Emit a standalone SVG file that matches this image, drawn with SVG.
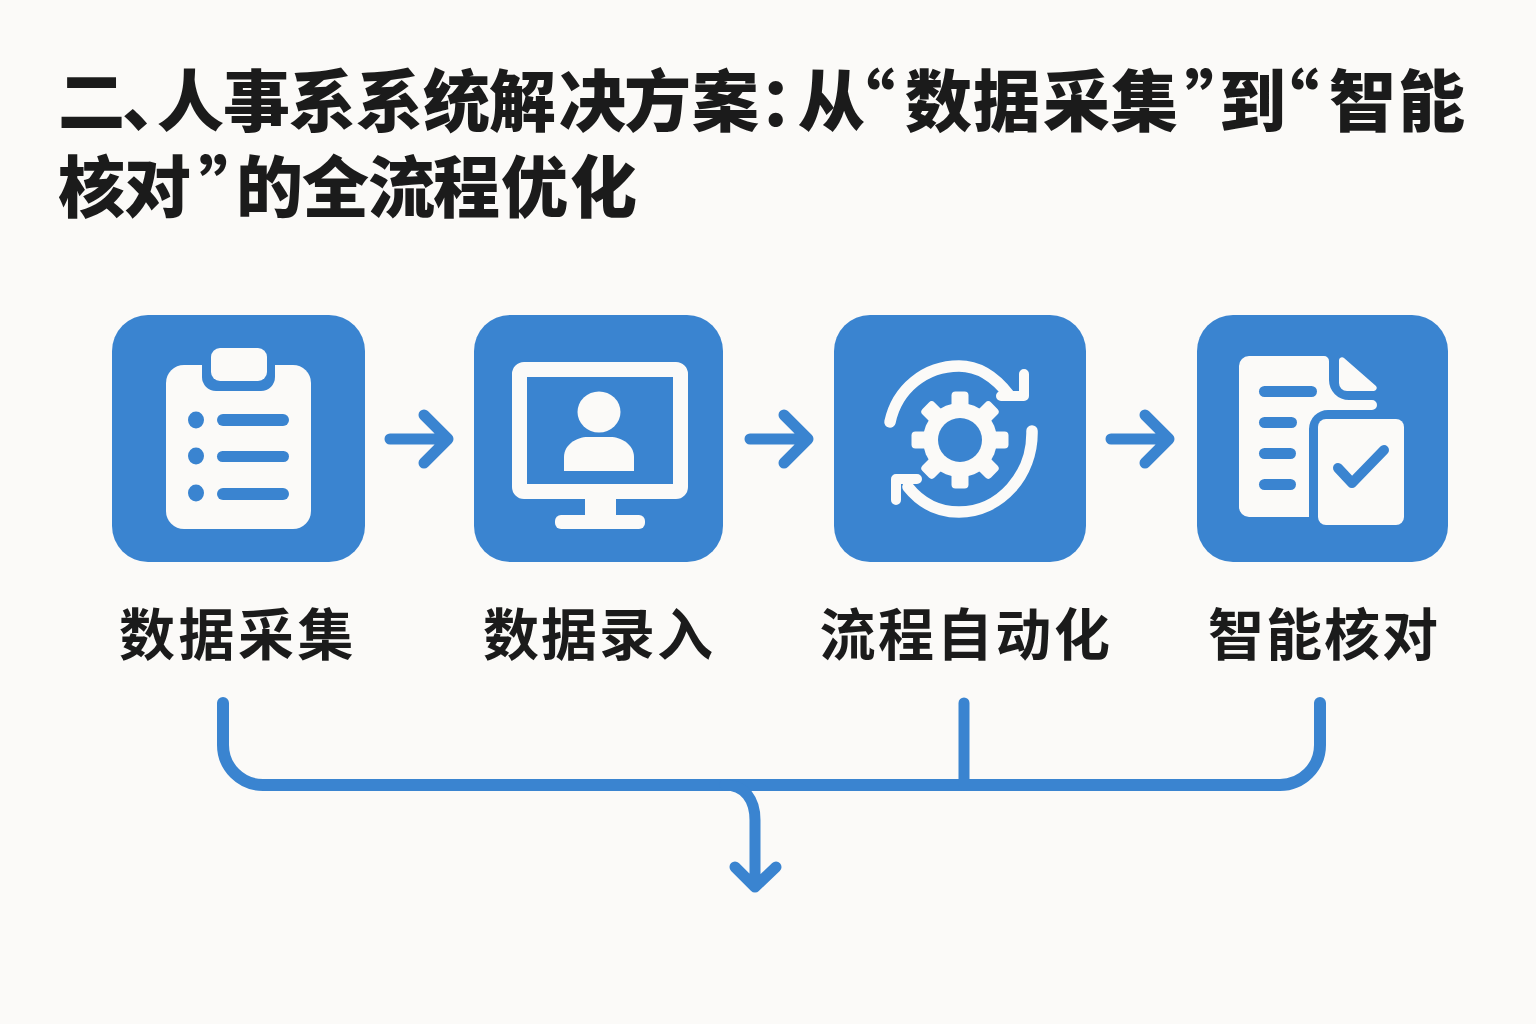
<svg xmlns="http://www.w3.org/2000/svg" width="1536" height="1024" viewBox="0 0 1536 1024">
<style>
.t{font-family:"Noto Sans CJK SC",sans-serif;font-weight:700;fill:#1b1b1b}
.h{font-size:67px;font-weight:900}
.l{font-size:56px;letter-spacing:2px;text-anchor:middle}
.b{fill:#3a84d0}
.w{fill:#fbfaf8}
.ws{fill:none;stroke:#fbfaf8;stroke-linecap:round;stroke-linejoin:round}
.c{fill:none;stroke:#3a84d0;stroke-width:11;stroke-linecap:round;stroke-linejoin:round}
</style>
<rect width="1536" height="1024" fill="#fbfaf8"/>
<g id="title">
<text class="t h" x="58 122 157 223 289 356 423 489 559 624 692 759 798 828 905 973 1043 1111 1185 1219 1252 1329 1398" y="126">二、人事系系统解决方案：从“数据采集”到“智能</text>
<text class="t h" x="58 124 199 236 302 368 433 501 570" y="212">核对”的全流程优化</text>
</g>
<g id="node1">
<rect class="b" x="112" y="315" width="253" height="247" rx="36"/>
<rect class="w" x="166" y="365" width="145" height="164" rx="18"/>
<path class="b" d="M202 362h73v15a14 14 0 0 1-14 14h-45a14 14 0 0 1-14-14z"/>
<rect class="w" x="211" y="348" width="56" height="33" rx="9"/>
<ellipse class="b" cx="196" cy="420" rx="8" ry="8.5"/><ellipse class="b" cx="196" cy="456" rx="8" ry="8.5"/><ellipse class="b" cx="196" cy="493" rx="8" ry="8.5"/>
<rect class="b" x="217" y="414" width="72" height="12" rx="6"/><rect class="b" x="217" y="451" width="72" height="11" rx="5.5"/><rect class="b" x="217" y="488" width="72" height="12" rx="6"/>
<text class="t l" x="238" y="655" style="letter-spacing:3.5px">数据采集</text>
</g>
<g id="node2">
<rect class="b" x="474" y="315" width="249" height="247" rx="36"/>
<path class="w" fill-rule="evenodd" d="M524 362h152a12 12 0 0 1 12 12v113a12 12 0 0 1-12 12h-152a12 12 0 0 1-12-12v-113a12 12 0 0 1 12-12zM527 377v107h146v-107z"/>
<rect class="w" x="585" y="498" width="31" height="20"/>
<rect class="w" x="555" y="515" width="90" height="14" rx="6"/>
<ellipse class="w" cx="599" cy="412" rx="21.5" ry="20.5"/>
<path class="w" d="M564 471v-14c0-12 12-20 24-20h22c12 0 24 8 24 20v14z"/>
<text class="t l" x="599" y="655">数据录入</text>
</g>
<g id="node3">
<rect class="b" x="834" y="315" width="252" height="247" rx="36"/>
<path class="ws" stroke-width="11.5" d="M890 422C897 389 925 366 959 366C980 366 996 378 1009 395"/>
<path class="ws" stroke-width="11.5" d="M1032 431C1033 475 1000 512 959 512C937 512 920 502 908 487"/>
<path class="ws" stroke-width="10" d="M1024 374V396H1001"/>
<path class="ws" stroke-width="10" d="M896 500V479H917"/>
<g class="w"><rect x="951.5" y="391.5" width="17" height="97" rx="4"/><rect x="951.5" y="391.5" width="17" height="97" rx="4" transform="rotate(45 960 440)"/><rect x="951.5" y="391.5" width="17" height="97" rx="4" transform="rotate(90 960 440)"/><rect x="951.5" y="391.5" width="17" height="97" rx="4" transform="rotate(135 960 440)"/></g>
<circle class="w" cx="960" cy="440" r="37"/>
<circle class="b" cx="960" cy="440" r="22"/>
<text class="t l" x="966" y="655" style="letter-spacing:2.6px">流程自动化</text>
</g>
<g id="node4">
<rect class="b" x="1197" y="315" width="251" height="247" rx="36"/>
<path class="w" d="M1249 356H1324a5 5 0 0 1 5 5V380a20 20 0 0 0 20 20H1372a5 5 0 0 1 0 10H1328a19 19 0 0 0-19 19V517H1249a10 10 0 0 1-10-10V366a10 10 0 0 1 10-10z"/>
<path class="w" d="M1339 360a3 3 0 0 1 5-2L1376 386a3 3 0 0 1-2 5H1347a8 8 0 0 1-8-8z"/>
<rect class="w" x="1318" y="419" width="86" height="106" rx="8"/>
<rect class="b" x="1259" y="386" width="58" height="11" rx="5.5"/><rect class="b" x="1259" y="417" width="38" height="11" rx="5.5"/><rect class="b" x="1259" y="448" width="37" height="11" rx="5.5"/><rect class="b" x="1259" y="479" width="37" height="11" rx="5.5"/>
<path fill="none" stroke="#3a84d0" stroke-width="10" stroke-linecap="round" stroke-linejoin="round" d="M1338 468L1352 483L1384 450"/>
<text class="t l" x="1324" y="655">智能核对</text>
</g>
<g id="connectors">
<path class="c" d="M390 439H446M424 415L448 439L424 463"/>
<path class="c" d="M750 439H806M784 415L808 439L784 463"/>
<path class="c" d="M1111 439H1167M1145 415L1169 439L1145 463"/>
<path class="c" style="stroke-width:12" d="M223 703V745A40 40 0 0 0 263 785H1280A40 40 0 0 0 1320 745V703"/>
<path class="c" d="M964 703V785"/>
<path class="c" d="M725 785C745 785 755 800 755 820V887M735 867L755 887L776 867"/>
</g>
</svg>
